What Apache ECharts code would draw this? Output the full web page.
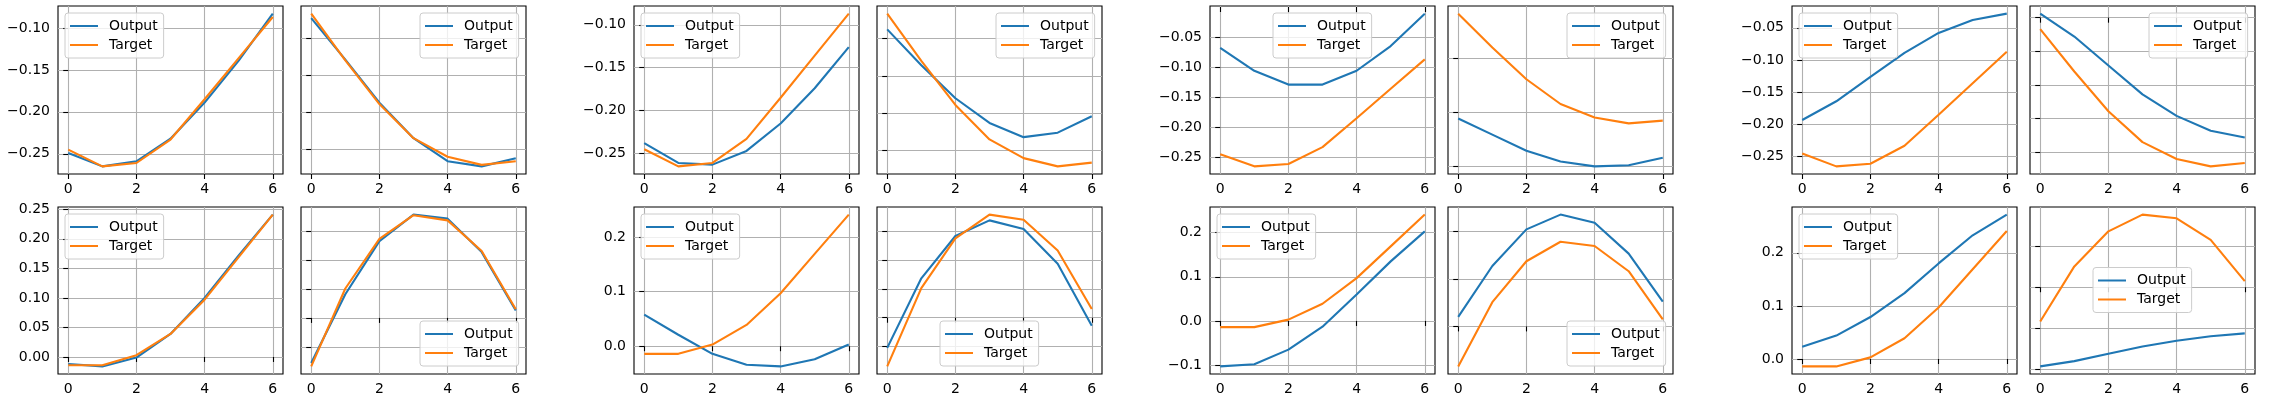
<!DOCTYPE html>
<html><head><meta charset="utf-8">
<script src="https://cdn.jsdelivr.net/npm/echarts@6/dist/echarts.min.js"></script>
<style>html,body{margin:0;padding:0;background:#fff}#c{width:2270px;height:408px}</style>
</head><body><div id="c"></div>
<script>
// ---------- data ----------
const steps = [0, 1, 2, 3, 4, 5, 6];
const xTickValues = [0, 2, 4, 6];

// targets (same in every group): A = top-left, B = top-right, C = bottom-left, D = bottom-right
const targetA = [-0.245, -0.265, -0.261, -0.233, -0.185, -0.136, -0.087];
const targetB = [-0.017, -0.080, -0.139, -0.185, -0.210, -0.221, -0.216];
const targetC = [-0.014, -0.014, 0.003, 0.039, 0.097, 0.169, 0.241];
const targetD = [-0.084, 0.051, 0.137, 0.178, 0.169, 0.116, 0.015];

// outputs, group 1..4
const output1A = [-0.249, -0.265, -0.259, -0.232, -0.189, -0.139, -0.083];
const output1B = [-0.023, -0.079, -0.137, -0.185, -0.216, -0.223, -0.212];
const output1C = [-0.012, -0.016, -0.001, 0.039, 0.100, 0.172, 0.241];
const output1D = [-0.078, 0.041, 0.133, 0.179, 0.172, 0.114, 0.013];

const output2A = [-0.238, -0.261, -0.263, -0.247, -0.215, -0.174, -0.126];
const output2B = [-0.038, -0.086, -0.130, -0.163, -0.182, -0.176, -0.154];
const output2C = [0.058, 0.021, -0.014, -0.034, -0.037, -0.024, 0.003];
const output2D = [-0.052, 0.068, 0.141, 0.168, 0.153, 0.093, -0.014];

const output3A = [-0.068, -0.106, -0.129, -0.129, -0.106, -0.065, -0.011];
const output3B = [-0.212, -0.242, -0.272, -0.292, -0.301, -0.299, -0.285];
const output3C = [-0.103, -0.098, -0.065, -0.013, 0.060, 0.135, 0.203];
const output3D = [0.020, 0.127, 0.204, 0.235, 0.218, 0.153, 0.052];

const output4A = [-0.193, -0.164, -0.126, -0.089, -0.058, -0.038, -0.028];
const output4B = [0.006, -0.028, -0.071, -0.114, -0.146, -0.168, -0.178];
const output4C = [0.023, 0.044, 0.079, 0.124, 0.180, 0.233, 0.272];
const output4D = [-0.194, -0.181, -0.163, -0.145, -0.131, -0.120, -0.113];

// y tick values per panel
const ticks1A = [-0.25, -0.20, -0.15, -0.10];
const ticks1B = [-0.20, -0.15, -0.10, -0.05];
const ticks1C = [0.00, 0.05, 0.10, 0.15, 0.20, 0.25];
const ticks1D = [-0.05, 0.00, 0.05, 0.10, 0.15];
const ticks2A = [-0.25, -0.20, -0.15, -0.10];
const ticks2B = [-0.20, -0.15, -0.10, -0.05];
const ticks2C = [0.0, 0.1, 0.2];
const ticks2D = [-0.05, 0.00, 0.05, 0.10, 0.15];
const ticks3A = [-0.25, -0.20, -0.15, -0.10, -0.05];
const ticks3B = [-0.3, -0.2, -0.1];
const ticks3C = [-0.1, 0.0, 0.1, 0.2];
const ticks3D = [0.0, 0.1, 0.2];
const ticks4A = [-0.25, -0.20, -0.15, -0.10, -0.05];
const ticks4B = [-0.20, -0.15, -0.10, -0.05, 0.00];
const ticks4C = [0.0, 0.1, 0.2];
const ticks4D = [-0.2, -0.1, 0.0, 0.1];

// ---------- layout ----------
const W = 2270, H = 408;
const PW = 225;
const rows = [{top: 6, h: 168}, {top: 207, h: 167}];
const groupLefts = [[58, 301], [634, 877], [1210, 1448], [1792, 2030]];

const panels = [
  // group, row, col, output, target, ticks, decimals, legend placement
  [0,0,0,output1A,targetA,ticks1A,2,'ul'], [0,0,1,output1B,targetB,ticks1B,2,'ur'],
  [0,1,0,output1C,targetC,ticks1C,2,'ul'], [0,1,1,output1D,targetD,ticks1D,2,'lr'],
  [1,0,0,output2A,targetA,ticks2A,2,'ul'], [1,0,1,output2B,targetB,ticks2B,2,'ur'],
  [1,1,0,output2C,targetC,ticks2C,1,'ul'], [1,1,1,output2D,targetD,ticks2D,2,'lc'],
  [2,0,0,output3A,targetA,ticks3A,2,'uc'], [2,0,1,output3B,targetB,ticks3B,1,'ur'],
  [2,1,0,output3C,targetC,ticks3C,1,'ul'], [2,1,1,output3D,targetD,ticks3D,1,'lr'],
  [3,0,0,output4A,targetA,ticks4A,2,'ul'], [3,0,1,output4B,targetB,ticks4B,2,'ur'],
  [3,1,0,output4C,targetC,ticks4C,1,'ul'], [3,1,1,output4D,targetD,ticks4D,1,'c']
];

const FONT = 'DejaVu Sans';
const BLUE = '#1f77b4', ORANGE = '#ff7f0e';
const fmt = d => v => {
  let s = Number(v).toFixed(d);
  if (/^-0\.0*$/.test(s)) s = s.slice(1);
  return s.replace('-', '\u2212');
};

const grid = [], xAxis = [], yAxis = [], series = [], legend = [];
const LW = 99, LH = 46, LPAD = 7;

panels.forEach((p, i) => {
  const [g, r, c, out, tgt, ticks, dec, loc] = p;
  const left = groupLefts[g][c];
  const top = rows[r].top, h = rows[r].h;
  grid.push({left: left, top: top, width: PW, height: h, show: true,
    borderColor: '#000', borderWidth: 1.1, backgroundColor: 'transparent', containLabel: false});
  xAxis.push({type: 'value', gridIndex: i, min: -0.3, max: 6.3,
    axisLine: {show: false},
    axisTick: {show: true, customValues: xTickValues, length: 5, lineStyle: {color: '#000', width: 1.1}},
    axisLabel: {show: true, customValues: xTickValues, margin: 8, fontFamily: FONT, fontSize: 14, color: '#000'},
    splitLine: {show: true, lineStyle: {color: '#b0b0b0', width: 1.1}}});
  yAxis.push({type: 'value', gridIndex: i, scale: true,
    min: e => e.min - 0.05 * (e.max - e.min),
    max: e => e.max + 0.05 * (e.max - e.min),
    axisLine: {show: false},
    axisTick: {show: true, customValues: ticks, length: 5, lineStyle: {color: '#000', width: 1.1}},
    axisLabel: {show: c === 0, customValues: ticks, margin: 8, fontFamily: FONT, fontSize: 14, color: '#000', formatter: fmt(dec)},
    splitLine: {show: true, lineStyle: {color: '#b0b0b0', width: 1.1}}});
  series.push({name: 'Output', type: 'line', xAxisIndex: i, yAxisIndex: i, symbol: 'none',
    data: steps.map((x, k) => [x, out[k]]), lineStyle: {color: BLUE, width: 2.1}, itemStyle: {color: BLUE}, z: 3});
  series.push({name: 'Target', type: 'line', xAxisIndex: i, yAxisIndex: i, symbol: 'none',
    data: steps.map((x, k) => [x, tgt[k]]), lineStyle: {color: ORANGE, width: 2.1}, itemStyle: {color: ORANGE}, z: 4});
  const lg = {show: true, orient: 'vertical', data: ['Output', 'Target'],
    icon: 'rect', itemWidth: 28, itemHeight: 2, itemGap: 5, padding: [6, 6, 6, 5],
    backgroundColor: 'rgba(255,255,255,0.8)', borderColor: '#cccccc', borderWidth: 1, borderRadius: 3,
    selectedMode: false,
    textStyle: {fontFamily: FONT, fontSize: 14, color: '#000', padding: [0, 0, 0, 6]}};
  if (loc === 'ul') { lg.left = left + LPAD; lg.top = top + LPAD; }
  else if (loc === 'ur') { lg.left = left + PW - LPAD - LW; lg.top = top + LPAD; }
  else if (loc === 'lr') { lg.left = left + PW - LPAD - LW; lg.top = top + h - LPAD - LH; }
  else if (loc === 'lc') { lg.left = left + PW / 2 - LW / 2; lg.top = top + h - LPAD - LH; }
  else if (loc === 'uc') { lg.left = left + PW / 2 - LW / 2; lg.top = top + LPAD; }
  else if (loc === 'c') { lg.left = left + PW / 2 - LW / 2; lg.top = top + h / 2 - LH / 2; }
  legend.push(lg);
});

const chart = echarts.init(document.getElementById('c'), null, {renderer: 'canvas'});
chart.setOption({animation: false, backgroundColor: '#fff', grid, xAxis, yAxis, series, legend});
</script>
</body></html>
